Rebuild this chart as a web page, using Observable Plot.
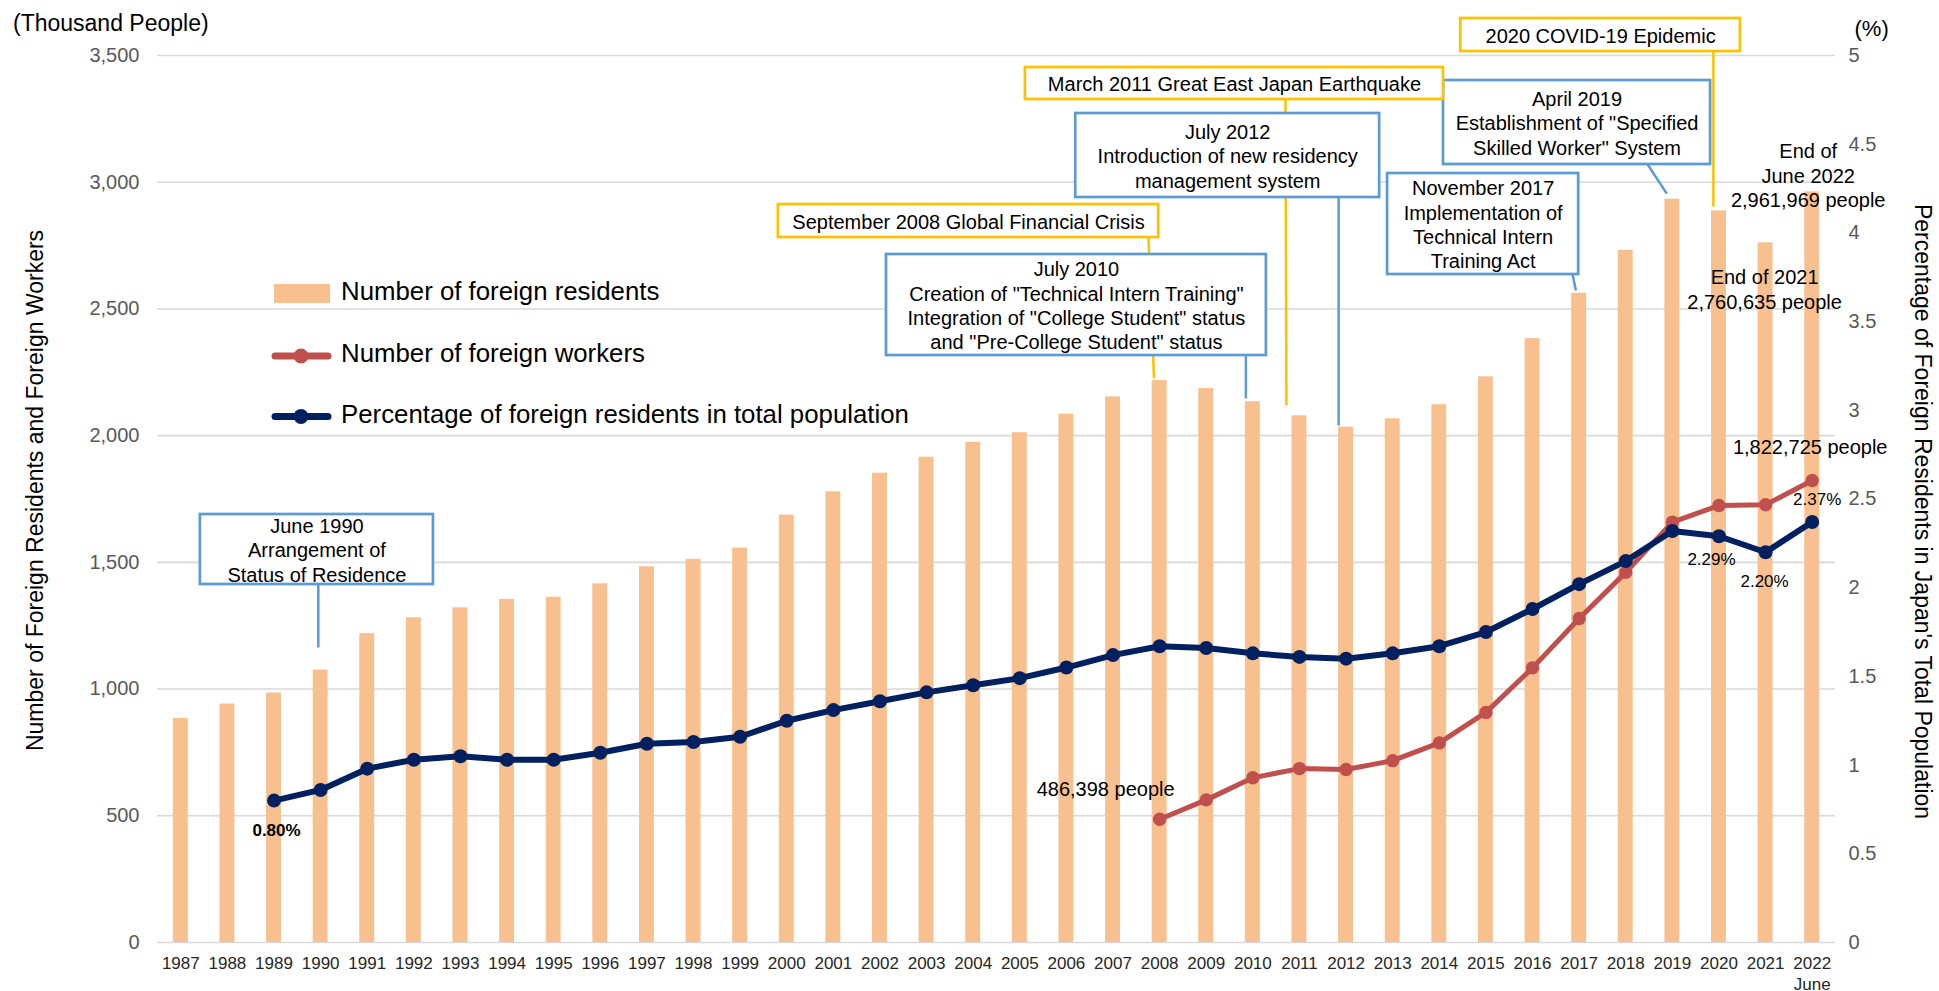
<!DOCTYPE html>
<html>
<head>
<meta charset="utf-8">
<script src="https://cdn.jsdelivr.net/npm/d3@7"></script>
<script src="https://cdn.jsdelivr.net/npm/@observablehq/plot@0.6"></script>
<style>
html, body { margin: 0; padding: 0; background: #fff; overflow: hidden; }
#wrap { position: relative; width: 1939px; height: 991px; }
#legend { position: absolute; left: 0; top: 0; pointer-events: none; }
</style>
</head>
<body>
<div id="wrap"></div>
<script>
// ---------------- DATA ----------------
const years = d3.range(1987, 2023);
// Number of foreign residents (thousand people)
const residents = [884.025, 941.005, 984.455, 1075.317, 1218.891, 1281.644, 1320.748, 1354.011, 1362.371, 1415.136,
  1482.707, 1512.116, 1556.113, 1686.444, 1778.462, 1851.758, 1915.030, 1973.747, 2011.555, 2084.919,
  2152.973, 2217.426, 2186.121, 2134.151, 2078.508, 2033.656, 2066.445, 2121.831, 2232.189, 2382.822,
  2561.848, 2731.093, 2933.137, 2887.116, 2760.635, 2961.969];
// Number of foreign workers (thousand people)
const workerYears = d3.range(2008, 2023);
const workers = [486.398, 562.818, 649.982, 686.246, 682.450, 717.504, 787.627, 907.896, 1083.769, 1278.670,
  1460.463, 1658.804, 1724.328, 1727.221, 1822.725];
// Percentage of foreign residents in total population (%)
const pctYears = d3.range(1989, 2023);
const pct = [0.80, 0.86, 0.98, 1.03, 1.05, 1.03, 1.03, 1.07, 1.12, 1.13, 1.16, 1.25, 1.31, 1.36, 1.41, 1.45, 1.49,
  1.55, 1.62, 1.67, 1.66, 1.63, 1.61, 1.60, 1.63, 1.67, 1.75, 1.88, 2.02, 2.15, 2.32, 2.29, 2.20, 2.37];
// Tick labels
const leftTicks = d3.range(0, 3501, 500);
const rightTicks = d3.range(0, 5.01, 0.5);
const yearLabels = years.map(y => y === 2022 ? "2022\nJune" : String(y));
// Legend / titles
const legendLabels = ["Number of foreign residents", "Number of foreign workers", "Percentage of foreign residents in total population"];
const leftTitle = "Number of Foreign Residents and Foreign Workers";
const rightTitle = "Percentage of Foreign Residents in Japan's Total Population";

// Event callouts (text)
const calloutTexts = [
  "June 1990\nArrangement of\nStatus of Residence",
  "September 2008 Global Financial Crisis",
  "July 2010\nCreation of \"Technical Intern Training\"\nIntegration of \"College Student\" status\nand \"Pre-College Student\" status",
  "March 2011 Great East Japan Earthquake",
  "July 2012\nIntroduction of new residency\nmanagement system",
  "November 2017\nImplementation of\nTechnical Intern\nTraining Act",
  "April 2019\nEstablishment of \"Specified\nSkilled Worker\" System",
  "2020 COVID-19 Epidemic"
];

// ---------------- LAYOUT / STYLE ----------------
const FONT = "'Liberation Sans', Arial, Helvetica, sans-serif";
const C_BAR = "#F9C08F", C_RED = "#C0504D", C_NAVY = "#002060";
const C_BLUE = "#5B9BD5", C_YEL = "#FFC000", C_GRID = "#D9D9D9";
const PCT_TO_Y = 700; // 5% <-> 3,500 thousand

// callout box / leader layout in data units (year, thousand people)
const calloutLayout = [
  {c: C_BLUE, x1: 1987.42, x2: 1992.42, y1: 1412.6, y2: 1688.8, lx1: 1989.95, lx2: 1989.95, ly2: 1164},
  {c: C_YEL,  x1: 1999.82, x2: 2007.98, y1: 2781.8, y2: 2912.0, lx1: 2007.76, lx2: 2007.88, ly2: 2226},
  {c: C_BLUE, x1: 2002.14, x2: 2010.29, y1: 2316.2, y2: 2714.8, lx1: 2009.85, lx2: 2009.85, ly2: 2147},
  {c: C_YEL,  x1: 2005.12, x2: 2014.09, y1: 3326.4, y2: 3452.6, lx1: 2010.70, lx2: 2010.72, ly2: 2119},
  {c: C_BLUE, x1: 2006.20, x2: 2012.72, y1: 2939.7, y2: 3271.1, lx1: 2011.84, lx2: 2011.84, ly2: 2040},
  {c: C_BLUE, x1: 2012.89, x2: 2016.99, y1: 2635.8, y2: 3034.4, lx1: 2016.86, lx2: 2016.93, ly2: 2573},
  {c: C_BLUE, x1: 2014.09, x2: 2019.82, y1: 3069.9, y2: 3401.3, lx1: 2018.47, lx2: 2018.88, ly2: 2955},
  {c: C_YEL,  x1: 2014.46, x2: 2020.46, y1: 3515.8, y2: 3646.0, lx1: 2019.88, lx2: 2019.88, ly2: 2904}
];
const callouts = calloutTexts.map((t, i) => ({text: t, ...calloutLayout[i]}));

const resAt = y => residents[years.indexOf(y)];
const wrkAt = y => workers[workerYears.indexOf(y)];
const pctAt = y => pct[pctYears.indexOf(y)];
const fmtPeople = v => d3.format(",")(Math.round(v * 1000)) + " people";
const fmtPct = v => v.toFixed(2) + "%";

const valueLabels = [
  {text: fmtPct(pctAt(1989)), year: 1989, y: pctAt(1989) * PCT_TO_Y, dx: 2.5, dy: 29, size: 17, weight: "bold"},
  {text: fmtPeople(wrkAt(2008)), year: 2008, y: wrkAt(2008), dx: -54, dy: -31, size: 20},
  {text: fmtPct(pctAt(2020)), year: 2020, y: pctAt(2020) * PCT_TO_Y, dx: -7.5, dy: 22, size: 17},
  {text: fmtPct(pctAt(2021)), year: 2021, y: pctAt(2021) * PCT_TO_Y, dx: -1, dy: 28, size: 17},
  {text: fmtPct(pctAt(2022)), year: 2022, y: pctAt(2022) * PCT_TO_Y, dx: 5, dy: -24, size: 17},
  {text: fmtPeople(wrkAt(2022)), year: 2022, y: wrkAt(2022), dx: -2, dy: -34, size: 20},
  {text: "End of\nJune 2022\n" + fmtPeople(resAt(2022)), year: 2022, y: resAt(2022), dx: -4, dy: -17, size: 20},
  {text: "End of 2021\n" + fmtPeople(resAt(2021)), year: 2021, y: resAt(2021), dx: -1, dy: 46, size: 20}
];

// ---------------- TABLES ----------------
const barRows = years.map((y, i) => ({year: y, v: residents[i]}));
const wrkRows = workerYears.map((y, i) => ({year: y, v: workers[i]}));
const pctRows = pctYears.map((y, i) => ({year: y, v: pct[i] * PCT_TO_Y}));
const HALF = 0.16;

const plot = Plot.plot({
  width: 1939, height: 991,
  marginLeft: 157, marginRight: 104, marginTop: 55, marginBottom: 49,
  style: {fontFamily: FONT, background: "white", overflow: "visible"},
  x: {domain: [1986.5, 2022.5], axis: null},
  y: {domain: [0, 3500], axis: null},
  marks: [
    Plot.ruleY(leftTicks, {stroke: C_GRID, strokeWidth: 1.6}),
    Plot.axisY({anchor: "left", ticks: leftTicks, tickFormat: d3.format(","), tickSize: 0, tickPadding: 18,
      fontSize: 20, color: "#595959", label: null}),
    Plot.axisY({anchor: "right", ticks: rightTicks.map(p => p * PCT_TO_Y),
      tickFormat: d => String(Math.round(d / PCT_TO_Y * 10) / 10), tickSize: 0, tickPadding: 13,
      fontSize: 20, color: "#595959", label: null}),
    Plot.axisX({ticks: years, tickFormat: d => yearLabels[years.indexOf(d)], tickSize: 0, tickPadding: 11,
      fontSize: 17, color: "#262626", lineHeight: 1.25, label: null}),
    // bars
    Plot.rect(barRows, {x1: d => d.year - HALF, x2: d => d.year + HALF, y1: 0, y2: "v", fill: C_BAR}),
    // callout leaders
    Plot.link(callouts.filter(d => d.c === C_BLUE), {x1: "lx1", y1: "y1", x2: "lx2", y2: "ly2", stroke: C_BLUE, strokeWidth: 2.5}),
    Plot.link(callouts.filter(d => d.c === C_YEL), {x1: "lx1", y1: "y1", x2: "lx2", y2: "ly2", stroke: C_YEL, strokeWidth: 2.5}),
    // callout boxes
    Plot.rect(callouts.filter(d => d.c === C_BLUE), {x1: "x1", x2: "x2", y1: "y1", y2: "y2", fill: "white", stroke: C_BLUE, strokeWidth: 2.7}),
    Plot.rect(callouts.filter(d => d.c === C_YEL), {x1: "x1", x2: "x2", y1: "y1", y2: "y2", fill: "white", stroke: C_YEL, strokeWidth: 2.7}),
    Plot.text(callouts, {x: d => (d.x1 + d.x2) / 2, y: d => (d.y1 + d.y2) / 2, text: "text", fontSize: 20,
      lineHeight: 1.22, fill: "#000", lineAnchor: "middle"}),
    // workers
    Plot.line(wrkRows, {x: "year", y: "v", stroke: C_RED, strokeWidth: 5}),
    Plot.dot(wrkRows, {x: "year", y: "v", r: 6.7, fill: C_RED}),
    // percentage
    Plot.line(pctRows, {x: "year", y: "v", stroke: C_NAVY, strokeWidth: 6}),
    Plot.dot(pctRows, {x: "year", y: "v", r: 7, fill: C_NAVY}),
    // value labels
    ...valueLabels.map(l => Plot.text([l], {x: "year", y: "y", text: "text", dx: l.dx, dy: l.dy,
      fontSize: l.size, fontWeight: l.weight || "normal", fill: "#000", lineHeight: 1.22, lineAnchor: "middle"})),
    // axis titles
    Plot.text(["(Thousand People)"], {frameAnchor: "top-left", textAnchor: "start", lineAnchor: "middle",
      dx: -144.5, dy: -32, fontSize: 23, fill: "#000"}),
    Plot.text(["(%)"], {frameAnchor: "top-right", textAnchor: "start", lineAnchor: "middle",
      dx: 19, dy: -27, fontSize: 22, fill: "#000"}),
    Plot.text([leftTitle], {frameAnchor: "left", textAnchor: "middle", lineAnchor: "middle", rotate: -90,
      dx: -122, dy: -8.5, fontSize: 23, fill: "#000"}),
    Plot.text([rightTitle], {frameAnchor: "right", textAnchor: "middle", lineAnchor: "middle", rotate: 90,
      dx: 87, dy: 12.5, fontSize: 23, fill: "#000"})
  ]
});

const wrap = document.getElementById("wrap");
wrap.appendChild(plot);

// ---------------- LEGEND (overlay) ----------------
const lg = d3.select(wrap).append("svg").attr("id", "legend").attr("width", 1939).attr("height", 991)
  .style("font-family", FONT);
const rows = [
  {kind: "bar", color: C_BAR, ty: 300, sy: 293.5},
  {kind: "line", color: C_RED, ty: 362, sy: 356},
  {kind: "line", color: C_NAVY, ty: 423, sy: 416.5}
];
rows.forEach((r, i) => {
  if (r.kind === "bar") {
    lg.append("rect").attr("x", 274).attr("y", 284).attr("width", 56).attr("height", 19).attr("fill", r.color);
  } else {
    lg.append("line").attr("x1", 275).attr("x2", 328).attr("y1", r.sy).attr("y2", r.sy)
      .attr("stroke", r.color).attr("stroke-width", 7).attr("stroke-linecap", "round");
    lg.append("circle").attr("cx", 301).attr("cy", r.sy).attr("r", 7.5).attr("fill", r.color);
  }
  lg.append("text").attr("x", 341).attr("y", r.ty).attr("font-size", 25.8).attr("fill", "#000").text(legendLabels[i]);
});
</script>
</body>
</html>
